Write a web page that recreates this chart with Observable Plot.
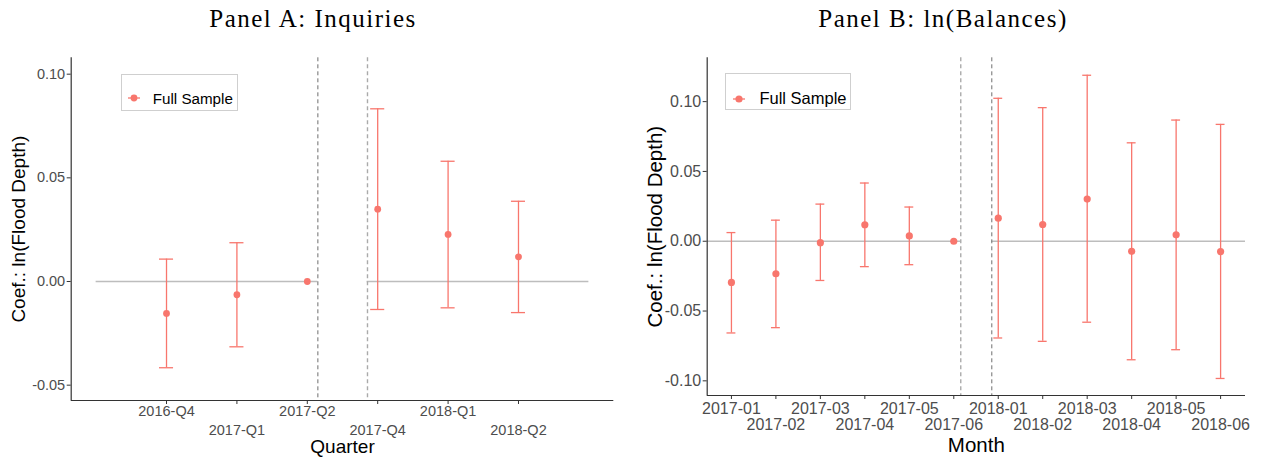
<!DOCTYPE html>
<html><head><meta charset="utf-8">
<script src="https://cdn.jsdelivr.net/npm/d3@7"></script>
<script src="https://cdn.jsdelivr.net/npm/@observablehq/plot@0.6"></script>
<style>
body{margin:0;background:#fff;}
#wrap{position:relative;width:1263px;height:460px;font-family:"Liberation Sans",Arial,sans-serif;overflow:hidden;}
.panel{position:absolute;top:0;height:460px;}
.panel svg{position:absolute;left:0;top:50px;}
.title{position:absolute;top:6px;font-family:"Liberation Serif","Times New Roman",serif;font-size:25px;line-height:25px;letter-spacing:1.5px;white-space:nowrap;color:#000;text-align:center;}
.legend{position:absolute;border:1px solid #cfcfcf;background:#fff;box-sizing:border-box;}
.legend .key{position:absolute;}
.legend .lab{position:absolute;white-space:nowrap;color:#000;line-height:1;}
</style>
</head><body>
<div id="wrap"></div>
<script>
// ---------- Panel A data ----------
const quarterLabels = ["2016-Q4","2017-Q1","2017-Q2","2017-Q4","2018-Q1","2018-Q2"];
const quarterCoef   = [-0.0154,-0.0064,0.0000,0.0349,0.0227,0.0119];
const quarterLow    = [-0.0416,-0.0315,null,-0.0135,-0.0127,-0.0150];
const quarterHigh   = [0.0108,0.0187,null,0.0833,0.0580,0.0387];
const quarterYTicks = [-0.05,0,0.05,0.10];

// ---------- Panel B data ----------
const monthLabels = ["2017-01","2017-02","2017-03","2017-04","2017-05","2017-06",
                     "2018-01","2018-02","2018-03","2018-04","2018-05","2018-06"];
const monthCoef = [-0.0295,-0.0233,-0.0010,0.0118,0.0038,0.0000,0.0165,0.0120,0.0302,-0.0072,0.0046,-0.0074];
const monthLow  = [-0.0657,-0.0619,-0.0281,-0.0182,-0.0168,null,-0.0693,-0.0717,-0.0580,-0.0849,-0.0777,-0.0983];
const monthHigh = [0.0062,0.0151,0.0266,0.0417,0.0245,null,0.1024,0.0957,0.1189,0.0705,0.0868,0.0837];
const monthYTicks = [-0.10,-0.05,0,0.05,0.10];

const seriesName = "Full Sample";
const yLabel = "Coef.: ln(Flood Depth)";
const RED = "#F8766D";

function makePanel(cfg){
  const rows = cfg.labels.map((lab,i)=>({x:i+1,lab,coef:cfg.coef[i],lo:cfg.low[i],hi:cfg.high[i]}));
  const bars = rows.filter(d=>d.lo!=null);
  const pos = rows.map(d=>d.x);
  const odd = pos.filter(p=>p%2===1), even = pos.filter(p=>p%2===0);
  const fmtX = p => cfg.labels[p-1];
  const [xmin,xmax] = cfg.xDomain, [ymin] = cfg.yDomain;
  const fs = cfg.tickFont;
  return Plot.plot({
    width: cfg.width, height: 410,
    marginLeft: cfg.ml, marginRight: cfg.mr, marginTop: 7.3, marginBottom: cfg.mb,
    style:{background:"transparent",fontFamily:'"Liberation Sans",Arial,sans-serif',fontSize:fs+"px",overflow:"visible"},
    x:{domain:cfg.xDomain, axis:null},
    y:{domain:cfg.yDomain, axis:null},
    marks:[
      Plot.ruleY(cfg.zeroSegs,{y:()=>0,x1:"a",x2:"b",stroke:"#bdbdbd",strokeWidth:1.3}),
      Plot.ruleX([cfg.dash[0]],{stroke:cfg.dashStyle[0].c,strokeWidth:cfg.dashStyle[0].w,strokeDasharray:"4,3"}),
      Plot.ruleX([cfg.dash[1]],{stroke:cfg.dashStyle[1].c,strokeWidth:cfg.dashStyle[1].w,strokeDasharray:"4,3"}),
      Plot.ruleX(bars,{x:"x",y1:"lo",y2:"hi",stroke:RED,strokeWidth:1.3}),
      Plot.ruleY(bars,{y:"hi",x1:d=>d.x-0.1,x2:d=>d.x+0.1,stroke:RED,strokeWidth:1.3}),
      Plot.ruleY(bars,{y:"lo",x1:d=>d.x-0.1,x2:d=>d.x+0.1,stroke:RED,strokeWidth:1.3}),
      Plot.dot(rows,{x:"x",y:"coef",r:cfg.r,fill:RED,stroke:null}),
      Plot.ruleX([xmin],{stroke:"#333",strokeWidth:1.2}),
      Plot.ruleY([ymin],{stroke:"#333",strokeWidth:1.2}),
      Plot.axisY(cfg.yTicks,{tickFormat:d=>d.toFixed(2),tickSize:4,tickPadding:2,stroke:"#333",fill:"#4d4d4d",fontSize:fs,label:null}),
      Plot.axisX(pos,{tickFormat:()=>"",tickSize:4,stroke:"#333",label:null}),
      Plot.axisX(odd,{tickFormat:fmtX,tickSize:0,tickPadding:cfg.p1,fill:"#4d4d4d",fontSize:fs,label:null}),
      Plot.axisX(even,{tickFormat:fmtX,tickSize:0,tickPadding:cfg.p2,fill:"#4d4d4d",fontSize:fs,label:null}),
      Plot.text([cfg.xLabel],{frameAnchor:"bottom",lineAnchor:"middle",textAnchor:"middle",dy:cfg.xlDy,fontSize:cfg.titleFont,fill:"#000",text:d=>d}),
      Plot.text([yLabel],{frameAnchor:"left",lineAnchor:"middle",textAnchor:"middle",rotate:-90,dx:-52,fontSize:cfg.titleFont,fill:"#000",text:d=>d})
    ]
  });
}

function addPanel(cfg){
  const wrap = document.getElementById("wrap");
  const p = document.createElement("div");
  p.className = "panel"; p.style.left = cfg.left+"px"; p.style.width = cfg.width+"px";
  const t = document.createElement("div");
  t.className = "title"; t.textContent = cfg.title;
  t.style.left = (cfg.titleCenter - cfg.left - 200)+"px"; t.style.width = "400px";
  p.appendChild(t);
  p.appendChild(makePanel(cfg));
  const lg = document.createElement("div");
  lg.className = "legend";
  Object.assign(lg.style,{left:cfg.lg.x+"px",top:cfg.lg.y+"px",width:cfg.lg.w+"px",height:cfg.lg.h+"px"});
  const svgNS = "http://www.w3.org/2000/svg";
  const key = document.createElementNS(svgNS,"svg");
  key.setAttribute("class","key"); key.setAttribute("width",20); key.setAttribute("height",12);
  key.style.left = (cfg.lg.kx-10)+"px"; key.style.top = (cfg.lg.ky-6)+"px";
  const ln = document.createElementNS(svgNS,"line");
  ln.setAttribute("x1",4);ln.setAttribute("x2",16);ln.setAttribute("y1",6);ln.setAttribute("y2",6);
  ln.setAttribute("stroke",RED);ln.setAttribute("stroke-width",1.3);
  const c = document.createElementNS(svgNS,"circle");
  c.setAttribute("cx",10);c.setAttribute("cy",6);c.setAttribute("r",cfg.r);c.setAttribute("fill",RED);
  key.appendChild(ln); key.appendChild(c); lg.appendChild(key);
  const lab = document.createElement("div");
  lab.className = "lab"; lab.textContent = seriesName;
  Object.assign(lab.style,{left:cfg.lg.tx+"px",top:(cfg.lg.ky - cfg.lg.fs*0.5)+"px",fontSize:cfg.lg.fs+"px"});
  lg.appendChild(lab);
  p.appendChild(lg);
  wrap.appendChild(p);
}

addPanel({
  title:"Panel A: Inquiries", titleCenter:313, left:0, width:632,
  labels:quarterLabels, coef:quarterCoef, low:quarterLow, high:quarterHigh, yTicks:quarterYTicks,
  xDomain:[-0.354,7.354], yDomain:[-0.0574,0.1079],
  ml:70.7, mr:18.7, mb:60,
  zeroSegs:[{a:0,b:3.15},{a:3.85,b:7}],
  dash:[3.15,3.855], dashStyle:[{c:"#6e6e6e",w:1},{c:"#aaaaaa",w:1.4}],
  tickFont:14.5, titleFont:19, p1:5.5, p2:24, xLabel:"Quarter", xlDy:46, r:3.4,
  lg:{x:120.7,y:74,w:117,h:37,kx:12.5,ky:23.3,tx:31,fs:15.2}
});
addPanel({
  title:"Panel B: ln(Balances)", titleCenter:943, left:632, width:631,
  labels:monthLabels, coef:monthCoef, low:monthLow, high:monthHigh, yTicks:monthYTicks,
  xDomain:[0.455,12.56], yDomain:[-0.1105,0.1314],
  ml:74.7, mr:18, mb:65,
  zeroSegs:[{a:0.455,b:6.157},{a:6.855,b:12.56}],
  dash:[6.157,6.855], dashStyle:[{c:"#aaaaaa",w:1.4},{c:"#6e6e6e",w:1}],
  tickFont:16, titleFont:20.5, p1:7, p2:23.5, xLabel:"Month", xlDy:50, r:3.6,
  lg:{x:93,y:73,w:126,h:37,kx:13,ky:24.7,tx:33.4,fs:16.5}
});
</script>
</body></html>
